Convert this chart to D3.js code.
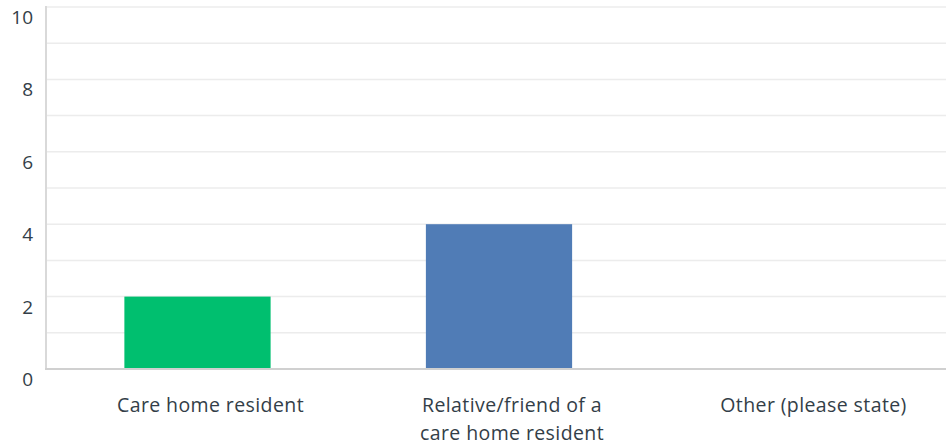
<!DOCTYPE html>
<html><head><meta charset="utf-8">
<script src="https://cdn.jsdelivr.net/npm/d3@7"></script>
<style>body{margin:0;background:#fff;}svg{display:block;}</style>
</head><body>
<svg id="c" width="946" height="447"></svg>
<script>
const categories = ["Care home resident", "Relative/friend of a care home resident", "Other (please state)"];
const labelLines = [["Care home resident"], ["Relative/friend of a", "care home resident"], ["Other (please state)"]];
const values = [2, 4, 0];
const colors = ["#00bf6f", "#507cb6", "#a0a0a0"];
const yTicks = [0, 2, 4, 6, 8, 10];
const gridTicks = [1,2,3,4,5,6,7,8,9,10];

const svg = d3.select("#c");
const m = {l: 47, t: 7, b: 78};
const W = 946, H = 447;
const x = d3.scaleBand().domain(categories).range([49, 949]).paddingInner(0.515).paddingOuter(0.25);
const y = d3.scaleLinear().domain([0, 10]).range([H - m.b, m.t]);
const font = "'Open Sans', sans-serif";

svg.append("g").selectAll("line").data(gridTicks).join("line")
  .attr("x1", m.l).attr("x2", W).attr("y1", d => y(d)).attr("y2", d => y(d))
  .attr("stroke", "#ececec").attr("stroke-width", 1.5);

svg.append("line").attr("x1", 46).attr("x2", 46).attr("y1", m.t - 1).attr("y2", y(0))
  .attr("stroke", "#d9d9d9").attr("stroke-width", 2);

svg.append("g").selectAll("rect").data(values).join("rect")
  .attr("x", (d, i) => x(categories[i])).attr("width", x.bandwidth())
  .attr("y", d => y(d)).attr("height", d => y(0) - y(d))
  .attr("fill", (d, i) => colors[i]);

svg.append("line").attr("x1", 45).attr("x2", W).attr("y1", y(0)).attr("y2", y(0))
  .attr("stroke", "#d0d0d0").attr("stroke-width", 2);

svg.append("g").selectAll("text").data(yTicks).join("text")
  .attr("x", 33).attr("y", d => y(d) + 17).attr("text-anchor", "end")
  .attr("font-family", font).attr("font-size", 19).attr("fill", "#333e48")
  .text(d => d);

const xl = svg.append("g").selectAll("text").data(categories).join("text")
  .attr("text-anchor", "middle").attr("font-family", font).attr("font-size", 19.5)
  .attr("letter-spacing", 0.4).attr("fill", "#333e48")
  .attr("transform", d => `translate(${x(d) + x.bandwidth()/2 + 13},412)`);
xl.each(function(d, i) {
  d3.select(this).selectAll("tspan").data(labelLines[i]).join("tspan")
    .attr("x", 0).attr("y", (t, j) => j * 28).text(t => t);
});
</script>
</body></html>
